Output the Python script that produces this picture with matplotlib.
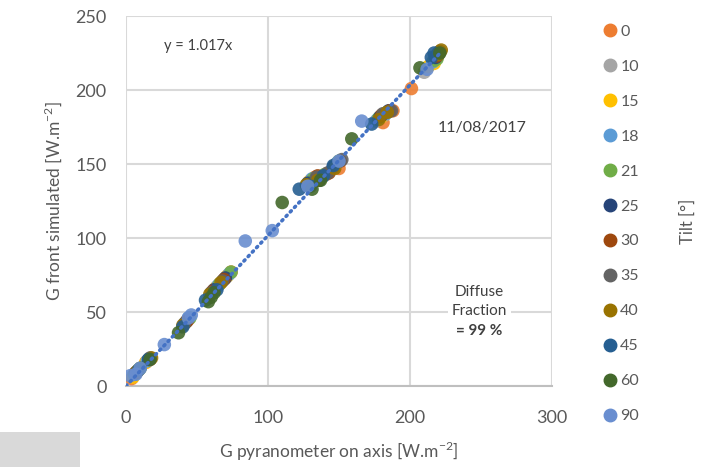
import matplotlib.pyplot as plt
from matplotlib.lines import Line2D
from matplotlib.patches import Rectangle

plt.rcParams['font.family'] = ['Lato', 'DejaVu Sans']

# tilt angles and their marker colours
tilts = ['0', '10', '15', '18', '21', '25', '30', '35', '40', '45', '60', '90']
colors = ['#ED7D31', '#A5A5A5', '#FFC000', '#5B9BD5', '#70AD47', '#264478',
          '#9E480E', '#636363', '#997300', '#255E91', '#43682B', '#698ED0']

# pyranometer reading (x) and simulated front irradiance (y) per tilt
g_pyr = [
    [4, 14, 44, 66, 74, 133, 141, 150, 181, 188, 201, 219],
    [5, 15, 43, 64, 72, 130, 138, 148, 176, 182, 210, 218],
    [5, 14, 42, 63, 71, 129, 137, 147, 180, 186, 213, 217],
    [6, 15, 44, 65, 73, 131, 139, 149, 177, 183, 216, 219],
    [6, 16, 45, 66, 74, 132, 140, 150, 178, 184, 217, 219],
    [7, 16, 42, 62, 70, 128, 136, 146, 179, 185, 218, 220],
    [7, 17, 43, 61, 69, 135, 143, 151, 180, 186, 219, 221],
    [8, 17, 41, 60, 68, 134, 142, 152, 181, 187, 220, 221],
    [8, 18, 40, 59, 67, 127, 135, 147, 178, 184, 220, 222],
    [9, 16, 40, 56, 64, 122, 130, 139, 146, 173, 215, 217],
    [10, 17, 37, 58, 60, 62, 110, 131, 137, 159, 207, 221],
    [3, 7, 10, 27, 44, 46, 84, 103, 128, 150, 166, 212],
]
g_sim = [
    [5, 16, 45, 69, 77, 141, 143, 147, 178, 186, 201, 224],
    [7, 17, 44, 67, 75, 139, 141, 150, 179, 183, 212, 221],
    [6, 16, 43, 66, 74, 138, 140, 149, 182, 186, 216, 218],
    [8, 17, 46, 68, 76, 140, 142, 151, 180, 184, 219, 222],
    [8, 18, 46, 69, 77, 140, 143, 152, 181, 185, 220, 221],
    [9, 18, 43, 65, 73, 137, 139, 148, 182, 186, 222, 225],
    [9, 18, 44, 64, 72, 142, 144, 152, 183, 186, 223, 226],
    [10, 19, 42, 63, 71, 141, 144, 153, 184, 186, 224, 226],
    [10, 19, 41, 62, 70, 136, 139, 147, 180, 185, 224, 227],
    [11, 18, 40, 58, 65, 133, 135, 142, 149, 177, 222, 225],
    [12, 18, 36, 57, 60, 63, 124, 133, 139, 167, 215, 225],
    [7, 8, 12, 28, 46, 48, 98, 105, 135, 152, 179, 214],
]
slope = 1.017
fit_x = [0, 222]

txt = '#595959'
fig = plt.figure(figsize=(7.11, 4.67), dpi=100)
ax = fig.add_axes([0.1772, 0.1734, 0.5992, 0.7923])

for x, y, c, t in zip(g_pyr, g_sim, colors, tilts):
    ax.scatter(x, y, s=95, color=c, alpha=0.9, edgecolors='none', zorder=3, label=t)

ax.plot(fit_x, [slope * v for v in fit_x], color='#4472C4', lw=2.6,
        linestyle=(0, (0.4, 1.3)), dash_capstyle='round', zorder=4)

ax.set_xlim(0, 300)
ax.set_ylim(0, 250)
ax.set_xticks([0, 100, 200, 300])
ax.set_yticks([0, 50, 100, 150, 200, 250])
ax.grid(True, color='#d9d9d9', lw=1.5)
ax.set_axisbelow(True)
for s in ['top', 'right', 'left']:
    ax.spines[s].set_visible(False)
ax.spines['bottom'].set_color('#bfbfbf')
ax.spines['bottom'].set_linewidth(1.5)
ax.tick_params(length=0, labelsize=13, labelcolor=txt)
ax.tick_params(axis='x', pad=17)
ax.tick_params(axis='y', pad=14)

ax.set_xlabel('G pyranometer on axis [W.m$^{\\mathregular{-2}}$]', fontsize=12.5,
              color=txt, labelpad=10)
ax.set_ylabel('G front simulated [W.m$^{\\mathregular{-2}}$]', fontsize=12.5,
              color=txt, labelpad=8)

ax.text(51, 230, 'y = 1.017x', fontsize=10.5, color='#404040', ha='center', va='center')
ax.text(251, 174, '11/08/2017', fontsize=11.5, color='#404040', ha='center', va='center')
ax.text(249, 57, 'Diffuse\nFraction', fontsize=11, color='#404040', ha='center',
        va='center', linespacing=1.5,
        bbox=dict(facecolor='white', edgecolor='none', pad=3))
ax.text(249, 37, '= 99 %', fontsize=11, color='#404040', ha='center', va='center',
        fontweight='bold')

handles = [Line2D([], [], marker='o', ls='none', color=c, markersize=9) for c in colors]
fig.legend(handles, tilts, loc='upper left', bbox_to_anchor=(0.824, 0.978),
           frameon=False, fontsize=11.5, labelcolor=txt, handletextpad=0.05,
           labelspacing=1.3, handlelength=1.2)
fig.text(0.967, 0.525, 'Tilt [°]', rotation=90, fontsize=12, color=txt,
         ha='center', va='center')

fig.patches.append(Rectangle((0, 0), 80 / 711, 35 / 467, transform=fig.transFigure,
                             facecolor='#d9d9d9', edgecolor='none'))

fig.savefig('out.png', dpi=100)
